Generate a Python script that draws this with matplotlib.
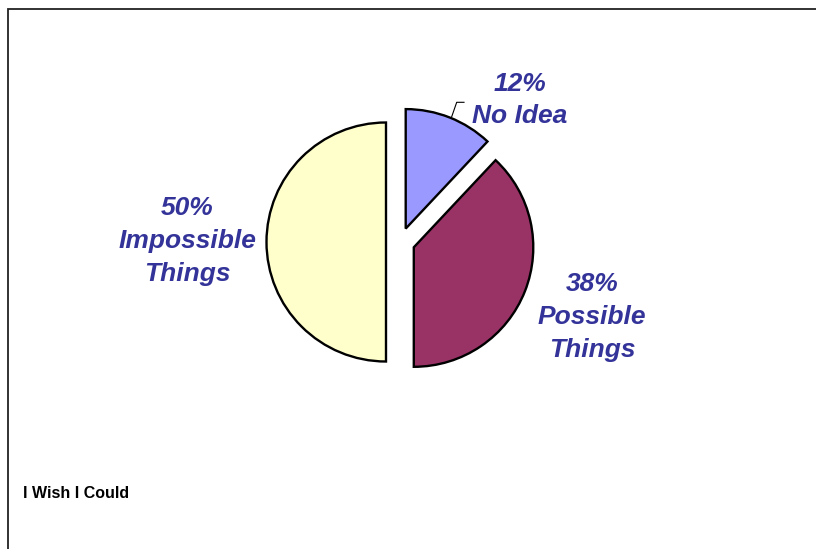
import matplotlib
matplotlib.use('Agg')
import matplotlib.pyplot as plt

# Survey answers, in the order they run clockwise from 12 o'clock
categories = ['No Idea', 'Possible Things', 'Impossible Things']
label_text = ['No Idea', 'Possible\nThings', 'Impossible\nThings']
shares = [12, 38, 50]
colors = ['#9999FF', '#993366', '#FFFFCC']
title = 'I Wish I Could'

W, H = 816, 549
label_color = '#333399'


def yy(y):
    # pixel rows count down from the top, the axes counts up
    return H - y


fig = plt.figure(figsize=(W / 100, H / 100), dpi=100)
ax = fig.add_axes([0, 0, 1, 1])

radius = 119.5
ax.pie(shares, colors=colors, startangle=90, counterclock=False,
       center=(400.4, yy(242)), radius=radius,
       explode=[14.4] * len(shares),
       wedgeprops=dict(edgecolor='black', linewidth=1.7))

ax.set_xlim(0, W)
ax.set_ylim(0, H)
ax.set_aspect('equal')
ax.axis('off')

# chart area border (only the left and top edges fall inside the image)
ax.plot([7.5, 7.5, W], [0, yy(8.5), yy(8.5)], color='#222222', lw=1.3,
        solid_joinstyle='miter')

# data labels
label_font = dict(family=['Liberation Sans', 'DejaVu Sans'], size=19,
                  weight='bold', style='italic', color=label_color,
                  ha='center', va='center', linespacing=1.47)
label_pos = [(520, 100), (592, 317), (187, 241)]
for text, pct, (x, y) in zip(label_text, shares, label_pos):
    ax.text(x, yy(y), f'{pct}%\n{text}', **label_font)

# leader line for the small slice
ax.plot([451.7, 456.7, 464], [yy(116.7), yy(102.3), yy(102.3)],
        color='black', lw=0.8)

ax.text(23, yy(493), title, family=['Liberation Sans', 'DejaVu Sans'],
        size=11.5, weight='bold', color='black', ha='left', va='center')

fig.savefig('out.png', dpi=100)
